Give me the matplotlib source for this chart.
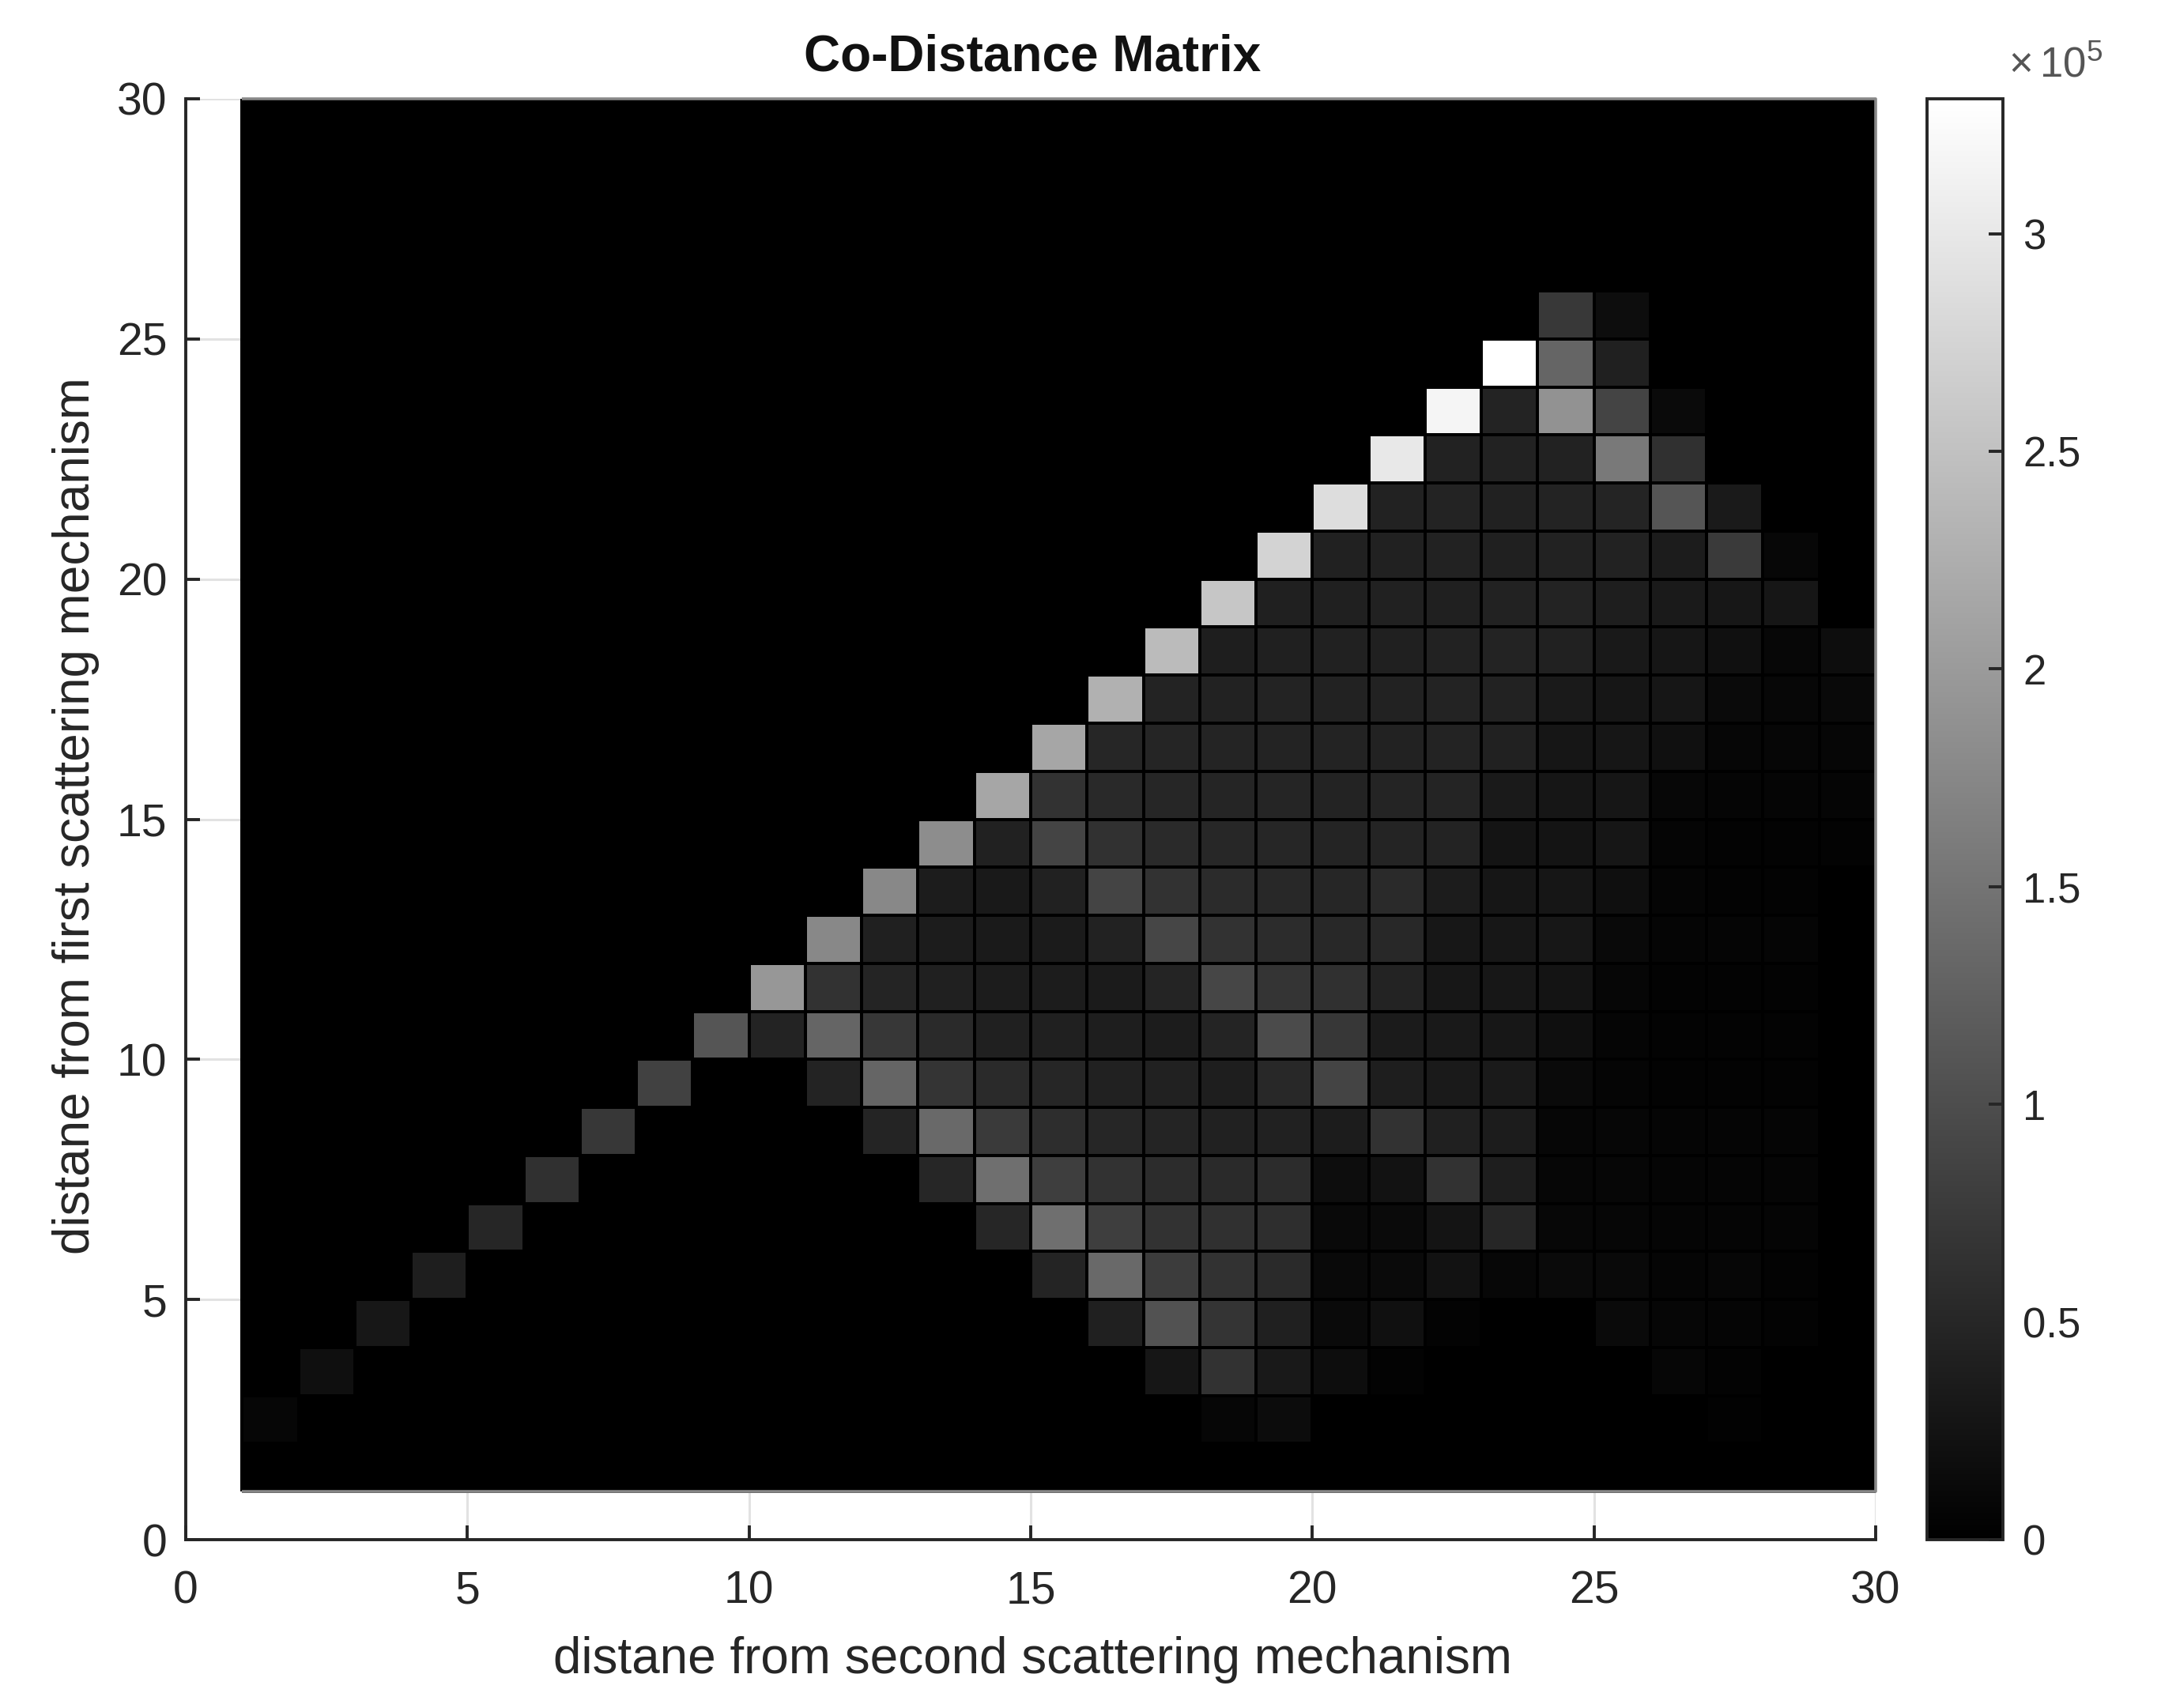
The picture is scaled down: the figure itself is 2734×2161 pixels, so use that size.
"""
Co-distance matrix, grey map with a colour bar on the right.
"""

import matplotlib
matplotlib.use('Agg')
import matplotlib.pyplot as plt
import numpy as np

# all counts in thousands
# the bright ridge, one cell per row, from y = 2 up to y = 25
ridge = [9, 20, 31, 39, 50, 63, 72, 85, 111, 196, 176, 176,
         183, 215, 215, 229, 242, 257, 274, 287, 300, 317, 331, 73]

# the body of the triangle, from y = 2 up to y = 25
body_start = [18, 17, 16, 15, 14, 13, 12, 11, 10, 11, 12, 13,
              14, 15, 16, 17, 18, 19, 20, 21, 22, 23, 24, 25]
body = [
    [9, 16, 1, 0, 0, 0, 0, 0, 0, 3],
    [29, 65, 33, 18, 4, 0, 0, 0, 1, 9, 5, 0],
    [42, 107, 68, 42, 13, 21, 4, 1, 1, 13, 8, 7, 4],
    [47, 137, 78, 65, 55, 12, 14, 24, 10, 14, 12, 7, 8, 5],
    [50, 144, 81, 65, 63, 60, 12, 13, 26, 50, 10, 9, 7, 7, 7],
    [50, 144, 81, 65, 57, 55, 57, 18, 24, 65, 39, 8, 9, 7, 7, 7],
    [47, 137, 76, 59, 50, 47, 43, 43, 37, 65, 42, 37, 9, 8, 7, 7, 7],
    [46, 131, 68, 55, 50, 43, 43, 39, 52, 89, 39, 34, 34, 13, 7, 5, 5, 5],
    [46, 131, 72, 55, 42, 42, 39, 37, 47, 98, 72, 35, 33, 31, 20, 7, 5, 5, 5, 0],
    [65, 47, 42, 37, 37, 35, 47, 91, 68, 63, 46, 31, 31, 27, 9, 5, 5, 5, 0],
    [42, 37, 34, 35, 44, 91, 65, 57, 52, 52, 31, 31, 31, 12, 7, 7, 7, 0],
    [37, 33, 43, 89, 65, 56, 52, 50, 55, 37, 29, 29, 20, 7, 5, 5, 0],
    [43, 89, 64, 55, 51, 50, 47, 47, 46, 27, 27, 29, 7, 5, 5, 4],
    [65, 54, 50, 48, 48, 46, 47, 47, 34, 29, 29, 10, 7, 7, 7],
    [50, 48, 47, 46, 46, 44, 46, 43, 29, 29, 21, 8, 8, 9],
    [46, 44, 46, 44, 44, 46, 44, 34, 29, 29, 14, 10, 12],
    [40, 42, 43, 42, 44, 46, 43, 33, 29, 21, 10, 18],
    [42, 42, 43, 42, 44, 46, 40, 34, 31, 29],
    [43, 43, 44, 42, 44, 44, 37, 76, 10],
    [44, 46, 43, 46, 47, 111, 34],
    [44, 44, 44, 157, 63],
    [46, 190, 89, 13],
    [131, 42],
    [18],
]

edges = np.arange(1, 31)
axis_ticks = [0, 5, 10, 15, 20, 25, 30]
bar_ticks = [0, 0.5, 1, 1.5, 2, 2.5, 3]
bar_labels = ['0', '0.5', '1', '1.5', '2', '2.5', '3']
max_count = 331000

W, H = 2734, 2161
DARK = '#262626'

plt.rcParams['font.family'] = ['Liberation Sans', 'DejaVu Sans']
plt.rcParams['mathtext.default'] = 'regular'

# fill the matrix from the two parts
matrix = np.zeros((29, 29))
for i, value in enumerate(ridge):
    matrix[i + 1, i] = value
for i, row in enumerate(body):
    matrix[i + 1, body_start[i] - 1:body_start[i] - 1 + len(row)] = row
matrix = matrix * 1000

fig = plt.figure(figsize=(W / 100, H / 100), dpi=100)
ax = fig.add_axes([235 / W, 1 - 1948 / H, (2373 - 235) / W, (1948 - 125) / H])

ax.grid(True, color='#e2e2e2', linewidth=2.2, zorder=0)
ax.set_axisbelow(True)
mesh = ax.pcolormesh(edges, edges, matrix, cmap='gray', vmin=0, vmax=max_count,
                     edgecolors='#000000', linewidth=2.6, zorder=2)

# thin grey rim the image has at its top, right and bottom
ax.plot([edges[0], edges[-1], edges[-1], edges[0]],
        [edges[-1], edges[-1], edges[0], edges[0]],
        color='#888888', linewidth=2.6, zorder=3, solid_capstyle='butt', clip_on=False)

ax.set_xlim(0, 30)
ax.set_ylim(0, 30)
ax.set_xticks(axis_ticks)
ax.set_yticks(axis_ticks)
ax.spines['top'].set_visible(False)
ax.spines['right'].set_visible(False)
for side in ['left', 'bottom']:
    ax.spines[side].set_linewidth(2.8)
    ax.spines[side].set_color(DARK)
    ax.spines[side].set_zorder(5)
ax.tick_params(direction='in', length=13, width=2.8, color=DARK, labelcolor=DARK,
               labelsize=41)
ax.tick_params(axis='x', pad=28)
ax.tick_params(axis='y', pad=17)

fig.text(1306 / W, 1 - 73 / H, 'Co-Distance Matrix', fontsize=46, fontweight='bold',
         color='#111111', ha='center', va='center')
fig.text(1306 / W, 1 - 2100 / H, 'distane from second scattering mechanism', fontsize=46,
         color=DARK, ha='center', va='center')
fig.text(96 / W, 1 - 1032 / H, 'distane from first scattering mechanism', fontsize=46,
         color=DARK, ha='center', va='center', rotation=90)

cax = fig.add_axes([2438 / W, 1 - 1948 / H, (2534 - 2438) / W, (1948 - 125) / H])
bar = fig.colorbar(mesh, cax=cax)
bar.solids.set_edgecolor('face')
bar.set_ticks([t * 1e5 for t in bar_ticks], labels=bar_labels)
bar.outline.set_linewidth(2.8)
bar.outline.set_edgecolor(DARK)
cax.tick_params(direction='in', length=13, width=2.8, color=DARK, labelcolor=DARK,
                labelsize=38, pad=18)

fig.text(2541 / W, 1 - 83 / H, r'$\times\,10^{5}$', fontsize=38, color='#555555',
         ha='left', va='center')

plt.savefig('out.png', dpi=100)
